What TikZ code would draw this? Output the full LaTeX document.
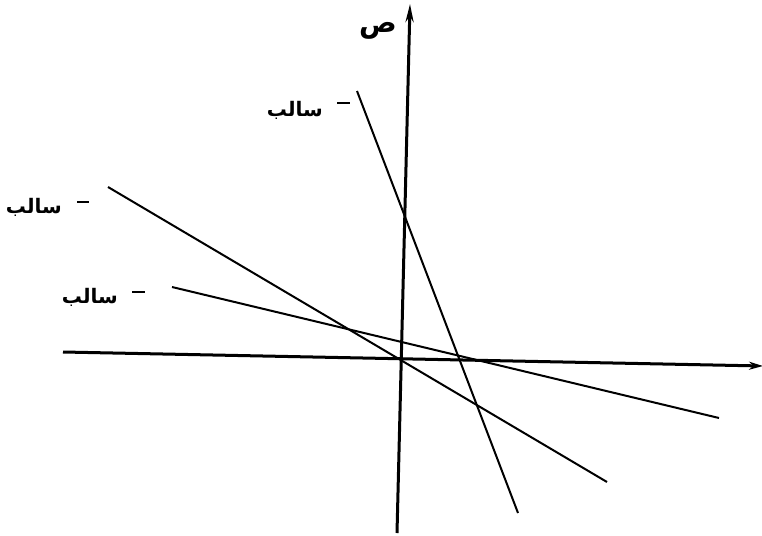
\documentclass[tikz,border=0pt]{standalone}
\usepackage{fontspec}
\newfontfamily\arabicfont[Script=Arabic]{DejaVu Sans}
\TeXXeTstate=1
\usetikzlibrary{arrows.meta}
\begin{document}
\begin{tikzpicture}[x=1pt,y=-1pt,
  axis/.style={line width=3pt},
  graphline/.style={line width=2pt},
  lbl/.style={inner sep=0pt,font=\arabicfont\bfseries\fontsize{20}{22}\selectfont},
  dashmark/.style={line width=1.3pt}]
\useasboundingbox (0,0) rectangle (762,535);
% axes
\coordinate (ybot) at (397,533);
\coordinate (ytop) at (410,4);
\coordinate (xleft) at (63,352);
\coordinate (xright) at (763,366);
\draw[axis,-{Stealth[length=18pt,width=8pt]}] (ybot) -- (ytop);
\draw[axis,-{Stealth[length=14pt,width=8pt]}] (xleft) -- (xright);
% lines
\coordinate (a1) at (357,91);
\coordinate (a2) at (518,513);
\coordinate (b1) at (108,187);
\coordinate (b2) at (607,482);
\coordinate (c1) at (172,287);
\coordinate (c2) at (719,418);
\draw[graphline] (a1) -- (a2);
\draw[graphline] (b1) -- (b2);
\draw[graphline] (c1) -- (c2);
% labels
\node[lbl,anchor=center,font=\arabicfont\bfseries\fontsize{28}{30}\selectfont] (ylab) at (378,31) {\beginR ص\endR};
\node[lbl,anchor=east] (l1) at (323,110) {\beginR سالب\endR};
\coordinate (d1a) at (337,103); \coordinate (d1b) at (350,103);
\draw[dashmark] (d1a) -- (d1b);
\node[lbl,anchor=east] (l2) at (62,207) {\beginR سالب\endR};
\coordinate (d2a) at (77,202); \coordinate (d2b) at (89,202);
\draw[dashmark] (d2a) -- (d2b);
\node[lbl,anchor=east] (l3) at (118,297) {\beginR سالب\endR};
\coordinate (d3a) at (132,292); \coordinate (d3b) at (145,292);
\draw[dashmark] (d3a) -- (d3b);
\end{tikzpicture}
\end{document}
